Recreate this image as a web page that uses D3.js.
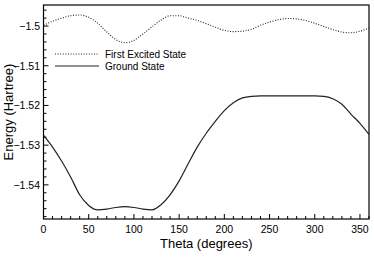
<!DOCTYPE html>
<html>
<head>
<meta charset="utf-8">
<script src="https://cdn.jsdelivr.net/npm/d3@7"></script>
<style>
  body { margin: 0; background: #fff; }
  svg { font-family: "Liberation Sans", Arial, sans-serif; }
</style>
</head>
<body>
<svg id="chart" width="374" height="264"></svg>
<script>
// theta in degrees, sampled every 10
const theta = d3.range(0, 361, 10);

const groundState = [
    -1.5275, -1.5305, -1.5340, -1.5380, -1.5425, -1.5452, -1.5463, -1.5461, -1.5457, -1.5455,
    -1.5457, -1.5461, -1.5463, -1.5450, -1.5425, -1.5390, -1.5347, -1.5305, -1.5270, -1.5240,
    -1.5213, -1.5193, -1.5181, -1.5177, -1.5176, -1.5176, -1.5176, -1.5176, -1.5176, -1.5176,
    -1.5176, -1.5177, -1.5183, -1.5197, -1.5222, -1.5245, -1.5273
];

const excitedState = [
    -1.4998, -1.4988, -1.4980, -1.4974, -1.4972, -1.4978, -1.4993, -1.5015, -1.5034, -1.5042,
    -1.5036, -1.5020, -1.5002, -1.4985, -1.4974, -1.4974, -1.4980, -1.4986, -1.4994, -1.5003,
    -1.5011, -1.5014, -1.5013, -1.5008, -1.4998, -1.4990, -1.4984, -1.4981, -1.4982, -1.4986,
    -1.4993, -1.5001, -1.5009, -1.5015, -1.5017, -1.5013, -1.5005
];

const xTicks = [0, 50, 100, 150, 200, 250, 300, 350];
const yTicks = [-1.50, -1.51, -1.52, -1.53, -1.54];

const svg = d3.select('#chart');
const plotLeft = 43.5, plotRight = 369, plotTop = 5, plotBottom = 219;

const x = d3.scaleLinear().domain([0, 360]).range([plotLeft, plotRight]);
const y = d3.scaleLinear().domain([-1.5486, -1.4947]).range([plotBottom, plotTop]);

// minor + major ticks, pointing inward
const g = svg.append('g');
g.selectAll('.xminor')
    .data(d3.range(0, 361, 10))
    .enter().append('line')
    .attr('x1', d => x(d)).attr('x2', d => x(d))
    .attr('y1', plotBottom).attr('y2', d => plotBottom - (d % 50 === 0 ? 5 : 3))
    .attr('stroke', '#000').attr('stroke-width', 1);

g.selectAll('.yminor')
    .data(d3.range(-1.548, -1.4947, 0.002))
    .enter().append('line')
    .attr('x1', plotLeft).attr('x2', d => plotLeft + (Math.abs(Math.round(d * 1000)) % 10 === 0 ? 5 : 3))
    .attr('y1', d => y(d)).attr('y2', d => y(d))
    .attr('stroke', '#000').attr('stroke-width', 1);

// frame
svg.append('rect')
    .attr('x', plotLeft).attr('y', plotTop)
    .attr('width', plotRight - plotLeft).attr('height', plotBottom - plotTop)
    .attr('fill', 'none').attr('stroke', '#000').attr('stroke-width', 1.2);

// tick labels
svg.selectAll('.xlab')
    .data(xTicks)
    .enter().append('text')
    .attr('x', d => x(d)).attr('y', 233)
    .attr('text-anchor', 'middle')
    .attr('font-size', 10.5)
    .text(d => d);

svg.selectAll('.ylab')
    .data(yTicks)
    .enter().append('text')
    .attr('x', 40).attr('y', d => y(d) + 3.8)
    .attr('text-anchor', 'end')
    .attr('font-size', 10.5)
    .text(d => d3.format('')(d));

// axis titles
svg.append('text')
    .attr('x', x(180)).attr('y', 248)
    .attr('text-anchor', 'middle')
    .attr('font-size', 13)
    .text('Theta (degrees)');

svg.append('text')
    .attr('transform', 'translate(13,112) rotate(-90)')
    .attr('text-anchor', 'middle')
    .attr('font-size', 13)
    .text('Energy (Hartree)');

// curves
const line = d3.line()
    .x((d, i) => x(theta[i]))
    .y(d => y(d))
    .curve(d3.curveMonotoneX);

svg.append('path')
    .datum(excitedState)
    .attr('d', line)
    .attr('fill', 'none')
    .attr('stroke', '#222')
    .attr('stroke-width', 1.1)
    .attr('stroke-dasharray', '1,1.6');

svg.append('path')
    .datum(groundState)
    .attr('d', line)
    .attr('fill', 'none')
    .attr('stroke', '#222')
    .attr('stroke-width', 1.2);

// legend
const legend = svg.append('g');
legend.append('line')
    .attr('x1', 55).attr('x2', 99).attr('y1', 54).attr('y2', 54)
    .attr('stroke', '#222').attr('stroke-width', 1.1)
    .attr('stroke-dasharray', '1,1.6');
legend.append('text')
    .attr('x', 105).attr('y', 57.5)
    .attr('font-size', 10)
    .text('First Excited State');
legend.append('line')
    .attr('x1', 55).attr('x2', 99).attr('y1', 66).attr('y2', 66)
    .attr('stroke', '#222').attr('stroke-width', 1.2);
legend.append('text')
    .attr('x', 105).attr('y', 69.5)
    .attr('font-size', 10)
    .text('Ground State');
</script>
</body>
</html>
